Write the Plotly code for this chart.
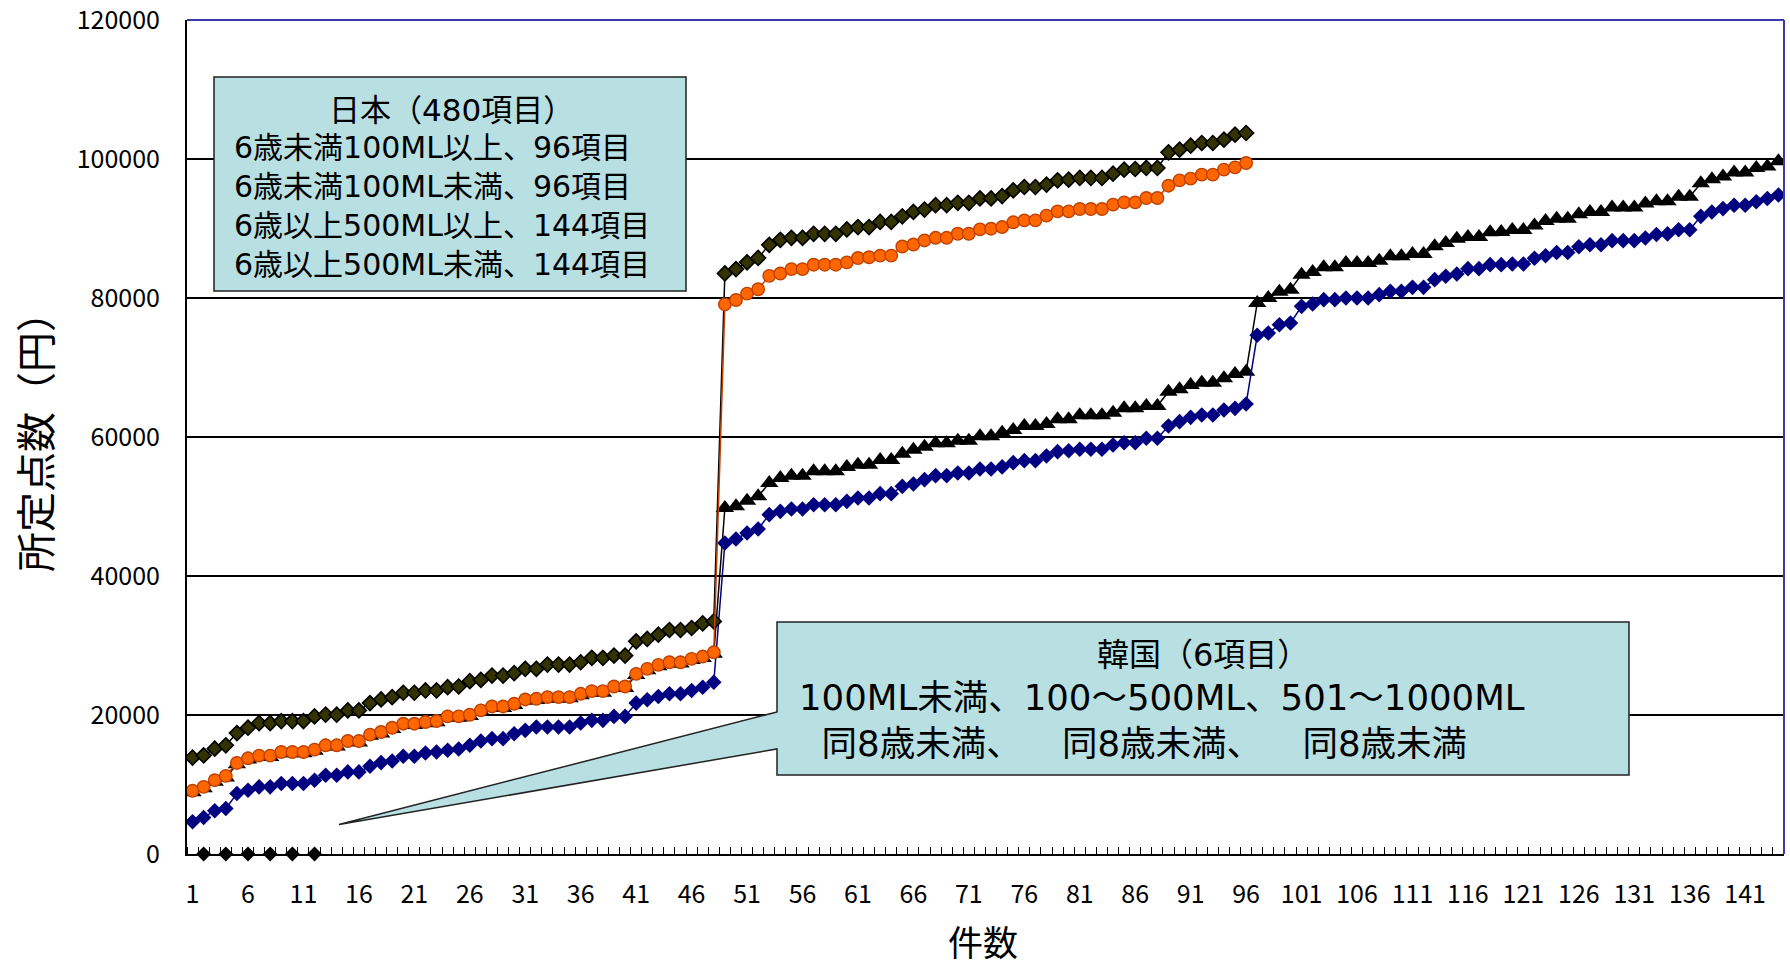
import plotly.graph_objects as go

# ---------------- data ----------------
categories = list(range(1, 145))

jp_u6_ge100 = [  # 6歳未満100ML以上 (96)
    13870, 14200, 15160, 15640, 17400, 18170, 18840, 18840, 19130, 19130, 19130, 19800, 20040, 20040, 20660, 20660, 21710, 22240, 22570, 23200, 23200, 23530, 23530, 24000, 24100,
    24870, 25060, 25680, 25680, 26020, 26640, 26640, 27260, 27260, 27260, 27590, 28220, 28220, 28550, 28550, 30600, 30940, 31560, 32230, 32230, 32520, 33190, 33470,
    83530, 84160, 85130, 85760, 87650, 88370, 88660, 88660, 89240, 89240, 89240, 89870, 90210, 90210, 90940, 90940, 91760, 92390, 92730, 93360, 93360, 93700, 93700, 94330, 94330, 94670,
    95490, 95970, 95970, 96310, 96930, 97030, 97270, 97270, 97270, 97890, 98470, 98560, 98710, 98710, 100960, 101340, 101920, 102300, 102300, 102780, 103500, 103740]

jp_u6_lt100 = [  # 6歳未満100ML未満 (96)
    9090, 9660, 10620, 11240, 13100, 13770, 14150, 14150, 14680, 14680, 14680, 15020, 15640, 15640, 16260, 16260, 17170, 17550, 18170, 18750, 18750, 18990, 19130, 19800, 19800,
    20040, 20660, 21230, 21230, 21620, 22240, 22330, 22570, 22570, 22570, 23050, 23430, 23430, 24100, 24100, 25920, 26640, 27210, 27590, 27590, 28070, 28410, 29020,
    79080, 79710, 80630, 81260, 83190, 83530, 84160, 84160, 84790, 84790, 84790, 85130, 85760, 85860, 86100, 86100, 87410, 87700, 88280, 88660, 88660, 89240, 89240, 89870, 89970, 90210,
    90890, 91170, 91170, 91850, 92470, 92470, 92810, 92810, 92810, 93430, 93760, 93760, 94390, 94390, 96160, 96930, 97170, 97750, 97750, 98470, 98800, 99420]

jp_o6_ge500 = [  # 6歳以上500ML以上 (144)
    8900, 9450, 10400, 11000, 12900, 13600, 13950, 13950, 14500, 14500, 14500, 14850, 15500, 15450, 16100, 16050, 17000, 17350, 18000, 18550, 18550, 18800, 18950, 19650, 19600,
    19850, 20500, 21050, 21000, 21450, 22050, 22150, 22400, 22350, 22400, 22850, 23250, 23200, 23900, 23900, 25750, 26450, 27000, 27400, 27400, 27900, 28200, 28800,
    49790, 50020, 50840, 51460, 53380, 54100, 54440, 54440, 55060, 55060, 55060, 55680, 56020, 56020, 56690, 56690, 57600, 58180, 58610, 59090, 59090, 59470, 59470, 60100, 60100, 60600,
    61010, 61580, 61580, 61870, 62540, 62540, 63120, 63120, 63120, 63500, 64120, 64120, 64460, 64460, 66520, 66860, 67480, 67820, 67820, 68440, 69060, 69400,
    79280, 80000, 80910, 81200, 83360, 83740, 84410, 84410, 85040, 85040, 85040, 85370, 86000, 86000, 86330, 86330, 87430, 87910, 88540, 88780, 88780, 89450, 89500, 89770, 89770,
    90440, 91070, 91410, 91410, 92040, 92380, 92380, 93010, 93010, 93010, 93590, 93930, 93930, 94560, 94560, 96500, 97090, 97480, 98060, 98060, 98690, 98930, 99660]

jp_o6_lt500 = [  # 6歳以上500ML未満 (144)
    4640, 5260, 6220, 6550, 8700, 9180, 9660, 9660, 10140, 10140, 10140, 10620, 11330, 11330, 11810, 11810, 12630, 13150, 13390, 14060, 14060, 14540, 14680, 14920, 15100,
    15640, 16260, 16600, 16600, 17310, 17790, 18270, 18270, 18270, 18270, 18840, 19230, 19230, 19800, 19800, 21710, 22190, 22670, 23050, 23050, 23530, 24000, 24720,
    44750, 45320, 46190, 46760, 48830, 49300, 49640, 49640, 50260, 50260, 50260, 50740, 51220, 51220, 51850, 51850, 52900, 53240, 53860, 54440, 54440, 54820, 54820, 55400, 55400, 55700,
    56310, 56600, 56600, 57270, 57890, 58030, 58230, 58230, 58230, 58850, 59180, 59180, 59810, 59810, 61580, 62210, 62830, 63170, 63170, 63880, 64120, 64750,
    74630, 74960, 76160, 76400, 78800, 79140, 79760, 79760, 80000, 80000, 80000, 80480, 80960, 80960, 81530, 81530, 82640, 83120, 83450, 84220, 84220, 84800, 84800, 84900, 84900,
    85730, 86070, 86550, 86550, 87380, 87670, 87670, 88250, 88250, 88250, 88640, 89130, 89220, 89810, 89810, 91750, 92380, 92860, 93350, 93350, 93840, 94320, 94810]

kr_x = [2, 4, 6, 8, 10, 12]
kr_values = [0, 0, 0, 0, 0, 0]

x_tick_vals = list(range(1, 145, 5))
x_tick_text = [str(v) for v in x_tick_vals]
y_tick_vals = [0, 20000, 40000, 60000, 80000, 100000, 120000]
y_tick_text = [str(v) for v in y_tick_vals]

jp_title = "日本（480項目）"
jp_lines = ["6歳未満100ML以上、96項目", "6歳未満100ML未満、96項目",
            "6歳以上500ML以上、144項目", "6歳以上500ML未満、144項目"]
kr_title = "韓国（6項目）"
kr_line2 = "100ML未満、100～500ML、501～1000ML"
kr_line3 = ["同8歳未満、", "同8歳未満、", "同8歳未満"]
y_title = "所定点数（円）"
x_title = "件数"

# ---------------- figure ----------------
FONT = "Noto Sans CJK JP, Noto Sans, sans-serif"
BOXFONT = "DejaVu Sans, Noto Sans CJK JP, sans-serif"
W, H = 1790, 969
L, R, T, B = 187, 6, 20, 115
PW, PH = W - L - R, H - T - B


def xp(px):
    return (px - L) / PW


def yp(py):
    return (H - B - py) / PH


fig = go.Figure()

fig.add_trace(go.Scatter(
    x=categories[:len(jp_o6_ge500)], y=jp_o6_ge500, mode="lines+markers",
    line=dict(color="black", width=1.5),
    marker=dict(symbol="triangle-up", size=16, color="black"),
    name="6歳以上500ML以上"))
fig.add_trace(go.Scatter(
    x=categories[:len(jp_o6_lt500)], y=jp_o6_lt500, mode="lines+markers",
    line=dict(color="#000080", width=1.5),
    marker=dict(symbol="diamond", size=12, color="#000080", line=dict(width=0)),
    name="6歳以上500ML未満"))
fig.add_trace(go.Scatter(
    x=categories[:len(jp_u6_ge100)], y=jp_u6_ge100, mode="lines+markers",
    line=dict(color="black", width=1.5),
    marker=dict(symbol="diamond", size=11.5, color="#333300", line=dict(color="black", width=1.6)),
    name="6歳未満100ML以上"))
fig.add_trace(go.Scatter(
    x=categories[:len(jp_u6_lt100)], y=jp_u6_lt100, mode="lines+markers",
    line=dict(color="#C04000", width=1.5),
    marker=dict(symbol="circle", size=12.5, color="#FF6600", line=dict(color="#C04000", width=1.4)),
    name="6歳未満100ML未満"))
fig.add_trace(go.Scatter(
    x=kr_x, y=kr_values, mode="markers", cliponaxis=False,
    marker=dict(symbol="diamond", size=11.5, color="black"),
    name="韓国"))

fig.update_layout(
    width=W, height=H,
    margin=dict(l=L, r=R, t=T, b=B, autoexpand=False),
    paper_bgcolor="white", plot_bgcolor="white",
    showlegend=False,
    font=dict(family=FONT, color="black"),
    xaxis=dict(
        range=[0.5, 144.5], tickmode="array", tickvals=x_tick_vals, ticktext=x_tick_text,
        ticks="", showgrid=False, zeroline=False, automargin=False,
        showline=True, linecolor="black", linewidth=2,
        tickfont=dict(size=25, family=FONT, color="black"),
        ticklabelstandoff=17, ticklabeloverflow="allow",
        minor=dict(tickmode="linear", tick0=0.5, dtick=1, ticks="inside", ticklen=7,
                   tickcolor="black", tickwidth=1.3, showgrid=False),
    ),
    yaxis=dict(
        range=[0, 120000], tickmode="array", tickvals=y_tick_vals, ticktext=y_tick_text,
        ticks="inside", ticklen=6, tickcolor="black", tickwidth=1.5,
        showgrid=True, gridcolor="black", gridwidth=1.5, zeroline=False, automargin=False,
        showline=True, linecolor="black", linewidth=2,
        tickfont=dict(size=25, family=FONT, color="black"),
        ticklabelstandoff=20, ticklabeloverflow="allow",
    ),
)

BORDER = "#3A3AAA"
BOXFILL = "#B8DFE2"
shapes = [
    dict(type="line", xref="paper", yref="paper", x0=0, x1=1, y0=1, y1=1,
         line=dict(color=BORDER, width=2), layer="above"),
    dict(type="line", xref="paper", yref="paper", x0=1, x1=1, y0=0, y1=1,
         line=dict(color=BORDER, width=2), layer="above"),
    dict(type="rect", xref="paper", yref="paper",
         x0=xp(214), x1=xp(686), y0=yp(291), y1=yp(77),
         fillcolor=BOXFILL, line=dict(color="#222222", width=1.5), layer="above"),
]
kr_pts = [(777, 622), (1629, 622), (1629, 775), (777, 775), (777, 749), (339, 824.5), (777, 712)]
path = "M " + " L ".join(f"{xp(a):.5f},{yp(b):.5f}" for a, b in kr_pts) + " Z"
shapes.append(dict(type="path", xref="paper", yref="paper", path=path,
                   fillcolor=BOXFILL, line=dict(color="#222222", width=1.5), layer="above"))
fig.update_layout(shapes=shapes)

SP = "\u3000\u00a0\u00a0"
ann = []
ann.append(dict(text=jp_title, x=xp(451), y=yp(110), xanchor="center", yanchor="middle",
                font=dict(size=31, family=BOXFONT)))
ann.append(dict(text="<br>".join(jp_lines), x=xp(232), y=yp(206), xanchor="left", yanchor="middle",
                align="left", font=dict(size=30, family=BOXFONT)))
ann.append(dict(text=kr_title, x=xp(1203), y=yp(655), xanchor="center", yanchor="middle",
                font=dict(size=32, family=BOXFONT)))
line3 = "\u00a0\u00a0" + SP.join(kr_line3)
ann.append(dict(text=kr_line2 + "<br>" + line3, x=xp(797), y=yp(720), xanchor="left", yanchor="middle",
                align="left", font=dict(size=35.5, family=BOXFONT)))
ann.append(dict(text=y_title, x=xp(34), y=yp(432), xanchor="center", yanchor="middle",
                textangle=-90, font=dict(size=40, family=FONT)))
ann.append(dict(text=x_title, x=xp(983), y=yp(940), xanchor="center", yanchor="middle",
                font=dict(size=35, family=FONT)))
for a in ann:
    a.update(xref="paper", yref="paper", showarrow=False)
fig.update_layout(annotations=ann)

fig.write_html("out.html")
